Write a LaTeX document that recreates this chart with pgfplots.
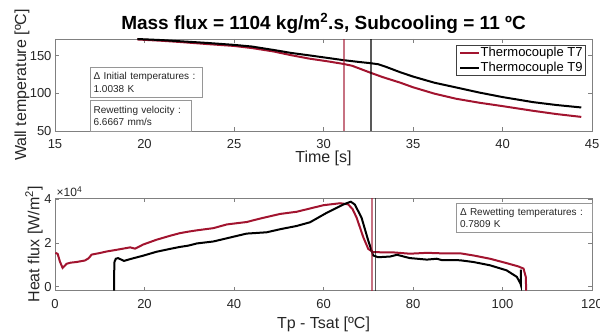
\documentclass[border=0pt]{standalone}
\usepackage{fontspec}
\setmainfont{Liberation Sans}
\usepackage{pgfplots}
\pgfplotsset{compat=1.18}
\definecolor{tcred}{RGB}{162,20,47}
\definecolor{axgray}{RGB}{128,128,128}
\definecolor{txtgray}{RGB}{38,38,38}
\definecolor{boxgray}{RGB}{150,150,150}
\pgfplotsset{
  common/.style={
    scale only axis, width=537bp,
    axis line style={axgray, line width=0.6bp},
    every tick/.style={axgray, line width=0.6bp},
    major tick length=4bp,
    tick align=inside, tick pos=both,
    /pgf/number format/assume math mode=true,
    ticklabel style={font=\fontsize{13bp}{15bp}\selectfont, text=txtgray},
    xticklabel style={anchor=base, yshift=-18bp},
    label style={font=\fontsize{16bp}{19bp}\selectfont, text=txtgray},
    scaled ticks=false,
  }
}
\begin{document}
\begin{tikzpicture}
\path[use as bounding box] (0bp,0bp) rectangle (600bp,333bp);
% ---------- top axis ----------
\begin{axis}[common, at={(55bp,202bp)}, anchor=south west, height=92bp,
  xmin=15, xmax=45, ymin=50, ymax=172,
  xtick={15,20,...,45}, ytick={50,100,150},
  xlabel={Time [s]}, ylabel={Wall temperature [ºC]},
  xlabel style={at={(axis description cs:0.5,0)}, anchor=base, yshift=-32bp},
  ylabel style={at={(axis description cs:-0.0615,0.5)}, anchor=center},
  legend style={at={(axis description cs:0.9888,0.938)}, anchor=north east,
    draw=black!75, line width=0.6bp, fill=white, inner xsep=2.5bp, inner ysep=1.2bp,
    font=\fontsize{13bp}{15bp}\selectfont,
    nodes={inner xsep=0.6bp, inner ysep=0bp, text height=10bp, text depth=3bp},
    row sep=1.8bp},
  legend cell align=left,
  legend image code/.code={\draw[#1, line width=2bp] (0bp,0bp) -- (19bp,0bp);},
]
\addplot[tcred, line width=2bp] coordinates {
(19.6,171.4)(21,169.6)(22,168.0)(23.5,165.3)(25,162.8)(26,160.0)(27.2,155.5)(28.2,150.5)(29.2,146)(30.2,142.5)(31.1,139)(31.6,136.5)(32.1,132)(32.6,127.5)(33.3,121.5)(34.3,114)(35,108)(36.2,99.5)(37.4,92.8)(38.7,87.5)(40,83)(41.7,76.8)(43,72.5)(44.4,68.7)};
\addlegendentry{Thermocouple T7}
\addplot[black, line width=2bp] coordinates {
(19.6,172)(21,170.5)(22,169)(23.5,166.8)(25,164.2)(26,162)(27.2,157.5)(28.2,153.5)(29.2,150.3)(30.2,147)(31.1,144)(32,141.5)(32.6,140)(33.06,138.5)(33.5,135)(34.3,127.8)(35,122.2)(36.2,114)(37.4,107.8)(38.7,101)(40,95)(41.7,88.3)(43,84.5)(44.4,81.2)};
\addlegendentry{Thermocouple T9}
\addplot[tcred, opacity=0.6, line width=1.8bp, forget plot] coordinates {(31.13,50)(31.13,172)};
\addplot[black, opacity=0.65, line width=1.8bp, forget plot] coordinates {(32.64,50)(32.64,172)};
\end{axis}
% ---------- bottom axis ----------
\begin{axis}[common, at={(55bp,42.3bp)}, anchor=south west, height=92.4bp,
  xmin=0, xmax=120, ymin=-1830, ymax=40460,
  xtick={0,20,...,120}, ytick={0,20000,40000}, yticklabels={0,2,4},
  xlabel={Tp - Tsat [ºC]}, ylabel={Heat flux [W/m\textsuperscript{2}]},
  xlabel style={at={(axis description cs:0.5,0)}, anchor=base, yshift=-37.6bp},
  ylabel style={at={(axis description cs:-0.039,0.5)}, anchor=center},
]
\addplot[tcred, line width=2bp] coordinates {
(0.1,15500)(0.6,15000)(1.1,11500)(1.7,8600)(2.6,10500)(3.5,11000)(4.8,11300)(6.7,12000)(7.5,13000)(8.2,14700)(10,15400)(11.5,16100)(13.8,16900)(16.8,18000)(17.9,17400)(19.7,19300)(22.7,21500)(25.7,23300)(27.9,24500)(29.8,25200)(31.7,25800)(35.4,26800)(38.4,28500)(42.8,29600)(46.5,31500)(50.3,33300)(54,34300)(57,35800)(60,37300)(63.7,38200)(65.5,37700)(66.5,35500)(67.4,31600)(68.9,22600)(70,17300)(71.1,15800)(75.6,15700)(79.3,15100)(83.1,15500)(86,15300)(90.5,15300)(93.5,14300)(97.2,12800)(100.9,10800)(103.5,9300)(104.7,8300)(105.2,4500)(105.3,-1830)};
\addplot[black, line width=2bp] coordinates {
(13.2,-1830)(13.2,5000)(13.3,11500)(13.6,12800)(14.1,13100)(15.4,11800)(17.1,12800)(19.7,14200)(22.7,16000)(25.7,17300)(27.9,18200)(29.8,18800)(31.7,19800)(35.4,20700)(39.1,22500)(42.8,24300)(47.3,24900)(50.3,26300)(54,27800)(57,29500)(60.7,33800)(64.4,37600)(66.1,38900)(67,37600)(68.5,31600)(70,21100)(71.1,14300)(72.2,13500)(74.9,13800)(76.4,14600)(79.3,13100)(83.1,12400)(85.3,12800)(86.4,12200)(90.5,12100)(93.5,11300)(97.2,9800)(100.9,7500)(103.2,4500)(104.0,1500)(104.1,800)(104.1,7800)};
\addplot[tcred, opacity=0.6, line width=1.8bp] coordinates {(70.8,-1830)(70.8,40460)};
\addplot[black, opacity=0.65, line width=1.8bp] coordinates {(71.6,-1830)(71.6,40460)};
\end{axis}
% ---------- texts ----------
\node[anchor=base, font=\bfseries\fontsize{19bp}{22bp}\selectfont, text=black] at (323.5bp,303bp) {Mass flux = 1104 kg/m\textsuperscript{2}.s, Subcooling = 11 ºC};
\node[anchor=base west, font=\fontsize{12bp}{14bp}\selectfont, text=txtgray, inner sep=0pt] at (56.5bp,136bp) {×10\textsuperscript{4}};
\node[draw=boxgray, line width=0.6bp, fill=white, anchor=north west, minimum height=30.6bp, text width=105bp, inner xsep=3.3bp, inner ysep=0bp, align=left, font=\fontsize{10bp}{12.5bp}\selectfont, text=txtgray] at (90bp,266.3bp) {Δ Initial temperatures :\\1.0038 K};
\node[draw=boxgray, line width=0.6bp, fill=white, anchor=north west, minimum height=31bp, text width=94.1bp, inner xsep=3.3bp, inner ysep=0bp, align=left, font=\fontsize{10bp}{12.5bp}\selectfont, text=txtgray] at (90bp,233bp) {Rewetting velocity :\\6.6667 mm/s};
\node[draw=boxgray, line width=0.6bp, fill=white, anchor=north west, minimum height=29.6bp, text width=128bp, inner xsep=4bp, inner ysep=0bp, align=left, font=\fontsize{10bp}{12.5bp}\selectfont, text=txtgray] at (455.7bp,130.3bp) {Δ Rewetting temperatures :\\0.7809 K};
\end{tikzpicture}
\end{document}
